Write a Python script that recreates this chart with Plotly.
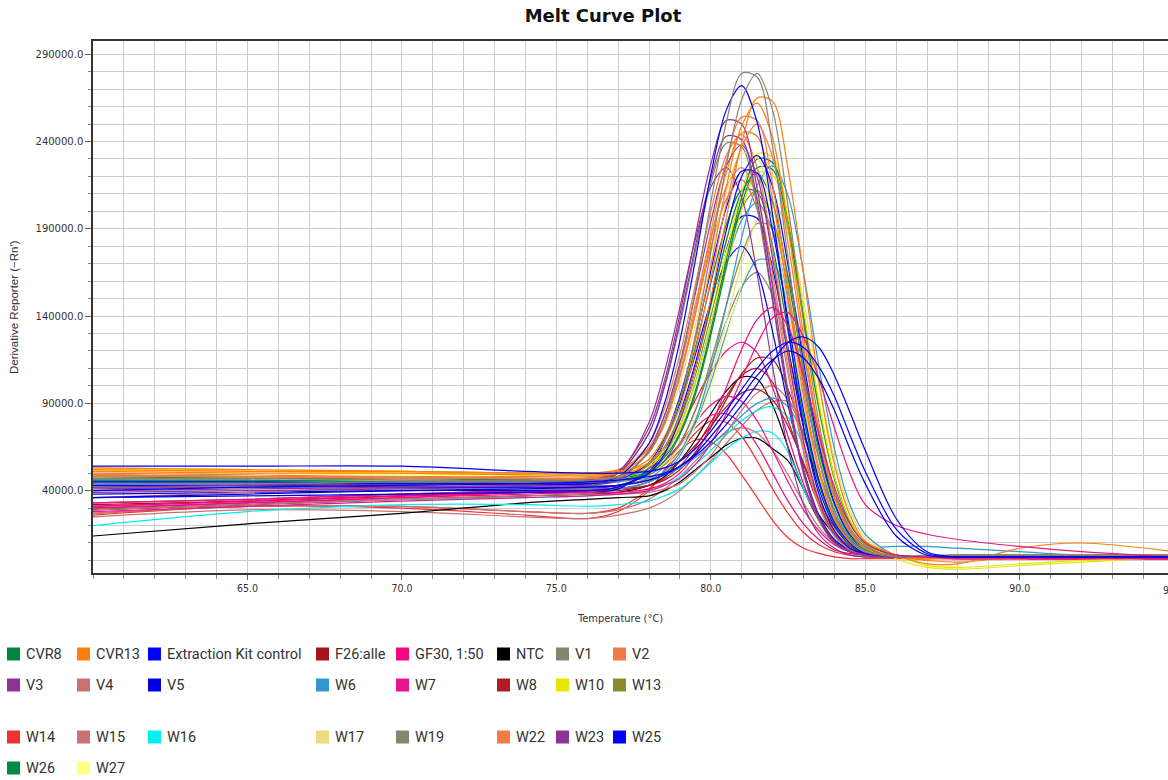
import plotly.graph_objects as go

# ---------------- data (derivative reporter values in thousands) ----------------
TEMPS = [60, 65, 70, 74, 76, 77, 78, 78.5, 79, 79.5, 80, 80.5, 81, 81.5, 82, 82.5,
         83, 83.5, 84, 84.5, 85, 86, 87, 88, 90, 92, 95]

SAMPLES = ["CVR8", "CVR13", "Extraction Kit control", "F26:alle", "GF30, 1:50", "NTC", "V1", "V2",
           "V3", "V4", "V5", "W6", "W7", "W8", "W10", "W13",
           "W14", "W15", "W16", "W17", "W19", "W22", "W23", "W25",
           "W26", "W27"]

SAMPLE_COLORS = ["#00853f", "#ff7f0e", "#0000ff", "#a8141e", "#f5087f", "#000000", "#878470", "#f07b45",
                 "#8c3395", "#c87272", "#0000e0", "#3399cc", "#e8168c", "#b01c24", "#e6e600", "#8c8a2e",
                 "#f03232", "#c87272", "#00f0f0", "#eedc82", "#878470", "#f07b45", "#8c3395", "#0000ff",
                 "#008844", "#ffff80"]

V1_A = [47, 47, 46, 46, 46, 48, 62, 80, 111, 155, 205, 251, 279, 277, 237, 173, 107, 58, 27, 12, 5, 2, 2, 3, 3, 3, 3]
W19_A = [44, 44, 45, 45, 45, 46, 55, 69, 92, 129, 177, 226, 264, 279, 258, 203, 137, 79, 39, 18, 8, 2, 2, 3, 3, 3, 3]
EKC_A = [45, 45, 44, 44, 44, 48, 67, 90, 126, 172, 221, 258, 272, 251, 198, 134, 77, 38, 17, 7, 4, 2, 2, 2, 2, 2, 2]
CVR13_A = [53, 52, 51, 50, 50, 51, 56, 65, 82, 110, 150, 196, 239, 265, 263, 224, 164, 102, 55, 26, 11, 3, -2, -2, 7, 10, 5]
CVR13_B = [51, 50, 50, 49, 49, 50, 58, 71, 92, 126, 169, 214, 249, 262, 242, 191, 129, 74, 37, 17, 7, 2, 1, 2, 2, 2, 2]
V2_A = [50, 49, 48, 48, 48, 50, 62, 78, 106, 144, 188, 229, 254, 252, 215, 157, 98, 53, 25, 11, 5, 2, 2, 2, 2, 2, 2]
W22_A = [48, 48, 47, 47, 47, 48, 56, 68, 88, 120, 161, 204, 237, 250, 231, 182, 123, 71, 36, 16, 7, 2, 2, 2, 2, 2, 2]
V3_A = [42, 43, 44, 45, 46, 51, 76, 103, 141, 186, 227, 252, 250, 213, 156, 97, 52, 25, 11, 5, 3, 2, 2, 2, 2, 2, 2]
W23_A = [41, 42, 43, 44, 45, 50, 73, 100, 137, 180, 219, 243, 241, 206, 150, 94, 50, 24, 10, 5, 3, 2, 2, 2, 2, 2, 2]
V3_B = [40, 41, 42, 43, 43, 46, 63, 83, 113, 153, 194, 226, 238, 220, 173, 117, 68, 34, 15, 7, 3, 2, 2, 2, 2, 2, 2]
CVR8_A = [48, 47, 47, 46, 46, 47, 51, 59, 73, 97, 132, 172, 208, 230, 228, 195, 142, 89, 48, 23, 10, 3, 2, 2, 2, 2, 2]
W26_A = [46, 46, 45, 45, 45, 46, 50, 57, 72, 95, 129, 168, 204, 225, 224, 191, 139, 87, 47, 22, 10, 3, 2, 2, 2, 2, 2]
CVR8_B = [49, 48, 48, 47, 47, 48, 55, 65, 83, 110, 146, 183, 211, 222, 205, 162, 109, 63, 32, 14, 6, 2, 2, 2, 2, 2, 2]
W6_A = [45, 44, 44, 43, 43, 43, 46, 51, 62, 80, 109, 146, 185, 215, 226, 209, 165, 111, 64, 32, 15, 3, 2, 2, 2, 2, 2]
W10_A = [52, 51, 50, 49, 49, 50, 54, 61, 75, 97, 130, 167, 201, 222, 221, 188, 137, 86, 46, 22, 10, 1, -4, -5, -3, -1, 2]
W27_A = [51, 50, 49, 48, 48, 49, 56, 65, 83, 109, 144, 180, 208, 218, 201, 159, 107, 62, 31, 14, 6, 2, 1, 1, 1, 2, 2]
W13_A = [47, 47, 46, 46, 46, 47, 53, 63, 80, 106, 140, 175, 202, 212, 196, 155, 104, 60, 30, 14, 6, 2, 2, 3, 3, 3, 3]
W17_A = [52, 51, 51, 50, 50, 52, 63, 77, 101, 135, 175, 211, 233, 231, 197, 144, 90, 48, 23, 10, 5, 2, 2, 2, 2, 2, 2]
W22_B = [49, 48, 48, 47, 47, 50, 67, 87, 118, 158, 200, 232, 244, 225, 178, 120, 69, 35, 16, 7, 3, 2, 2, 2, 2, 2, 2]
CVR13_C = [52, 51, 51, 50, 50, 52, 64, 79, 105, 141, 183, 222, 245, 243, 207, 151, 94, 51, 24, 10, 5, 2, 0, -1, 2, 3, 3]
W25_A = [43, 43, 42, 42, 42, 43, 50, 61, 81, 110, 149, 189, 220, 232, 214, 169, 114, 66, 33, 15, 7, 2, 2, 2, 2, 2, 2]
V5_A = [38, 39, 40, 40, 40, 42, 51, 63, 84, 113, 147, 179, 197, 196, 167, 122, 76, 41, 20, 9, 4, 2, 2, 2, 2, 2, 2]
V5_B = [36, 37, 38, 39, 39, 41, 53, 68, 90, 118, 148, 171, 180, 166, 131, 89, 52, 26, 12, 6, 3, 2, 2, 2, 2, 2, 2]
W19_B = [43, 43, 44, 44, 45, 50, 73, 99, 135, 177, 216, 239, 237, 202, 148, 92, 50, 23, 10, 5, 3, 2, 3, 3, 3, 3, 3]
W17_B = [51, 50, 49, 49, 49, 49, 52, 56, 65, 81, 105, 137, 170, 195, 205, 189, 149, 101, 58, 29, 13, 3, 2, 2, 2, 2, 2]
W10_B = [53, 52, 51, 50, 50, 51, 55, 63, 77, 101, 135, 175, 211, 233, 231, 197, 144, 90, 48, 23, 10, 3, -3, -4, -2, 0, 2]
W6_B = [46, 45, 45, 44, 44, 45, 51, 60, 77, 102, 135, 169, 195, 205, 189, 149, 101, 58, 29, 13, 6, 2, 2, 2, 2, 2, 2]
W26_B = [45, 45, 44, 44, 44, 46, 56, 69, 91, 122, 159, 192, 212, 211, 180, 131, 82, 44, 21, 9, 4, 2, 2, 2, 2, 2, 2]
V2_B = [49, 48, 47, 47, 47, 50, 65, 83, 111, 147, 185, 214, 225, 208, 164, 111, 64, 32, 15, 7, 3, 2, 2, 2, 2, 2, 2]
W23_B = [39, 40, 41, 42, 43, 50, 79, 108, 145, 184, 214, 225, 208, 164, 111, 64, 32, 15, 7, 3, 2, 2, 2, 2, 2, 2, 2]
W13_B = [46, 46, 45, 45, 45, 45, 49, 55, 67, 86, 114, 146, 175, 193, 191, 163, 119, 74, 40, 19, 9, 3, 2, 3, 3, 3, 3]
V1_B = [42, 42, 42, 42, 42, 43, 47, 54, 67, 86, 111, 137, 157, 165, 152, 120, 81, 47, 24, 11, 5, 2, 2, 3, 3, 3, 3]
W6_C = [42, 42, 41, 41, 41, 41, 45, 50, 60, 78, 102, 130, 156, 172, 171, 146, 106, 67, 36, 17, 8, 3, 2, 2, 2, 2, 2]
W27_B = [50, 49, 48, 48, 48, 48, 50, 54, 62, 77, 99, 128, 158, 181, 190, 176, 139, 94, 54, 27, 13, 3, 1, 1, 1, 2, 2]
V4_A = [36, 39, 42, 43, 44, 47, 62, 79, 107, 142, 179, 207, 218, 201, 159, 107, 62, 31, 14, 6, 3, 2, 2, 1, 1, 1, 1]
EKC_B = [43, 43, 44, 44, 44, 46, 56, 70, 94, 127, 166, 202, 223, 222, 189, 138, 86, 46, 22, 10, 4, 2, 2, 2, 2, 2, 2]
GF30_A = [30, 33, 36, 38, 39, 39, 41, 44, 50, 61, 77, 99, 121, 138, 145, 134, 106, 72, 42, 21, 10, 3, 2, 1, 1, 1, 1]
W7_A = [28, 31, 34, 36, 37, 38, 40, 43, 47, 55, 67, 84, 104, 124, 139, 142, 128, 104, 76, 50, 32, 20, 15, 12, 8, 5, 2]
W7_B = [33, 35, 38, 40, 41, 43, 50, 57, 67, 79, 89, 94, 91, 80, 63, 45, 29, 17, 9, 5, 3, 2, 1, 1, 1, 1, 1]
GF30_B = [31, 34, 37, 39, 40, 42, 50, 57, 66, 76, 83, 84, 78, 66, 50, 34, 21, 12, 6, 4, 3, 2, 1, 1, 1, 1, 1]
W14_A = [26, 31, 30, 26, 24, 28, 40, 52, 63, 69, 68, 61, 49, 36, 23, 13, 7, 4, 2, 1, 1, 1, 1, 1, 1, 1, 1]
W14_B = [27, 31, 31, 28, 27, 30, 41, 51, 62, 73, 80, 79, 71, 57, 41, 27, 16, 9, 5, 3, 2, 2, 1, 1, 1, 1, 1]
F26_A = [33, 35, 38, 40, 41, 41, 43, 46, 52, 62, 76, 92, 107, 116, 115, 98, 72, 45, 25, 12, 6, 2, 2, 1, 1, 1, 1]
W8_A = [31, 34, 37, 39, 40, 40, 43, 47, 54, 65, 79, 94, 106, 110, 102, 80, 55, 32, 17, 8, 4, 2, 1, 1, 1, 1, 1]
NTC_A = [14, 21, 27, 33, 35, 36, 37, 40, 45, 52, 59, 66, 70, 70, 64, 57, 41, 26, 15, 7, 3, 2, 2, 2, 2, 2, 2]
NTC_B = [29, 32, 35, 37, 38, 39, 43, 48, 57, 69, 84, 97, 105, 104, 89, 65, 41, 23, 11, 5, 3, 2, 2, 2, 2, 2, 2]
V4_B = [29, 32, 35, 37, 38, 38, 39, 41, 44, 51, 60, 73, 86, 96, 100, 92, 73, 50, 29, 15, 8, 3, 2, 1, 1, 1, 1]
W15_A = [25, 29, 28, 25, 24, 26, 30, 34, 40, 48, 57, 67, 77, 86, 91, 91, 80, 60, 38, 21, 10, 3, 2, 1, 1, 1, 1]
W16_A = [20, 28, 32, 32, 31, 32, 34, 37, 41, 48, 56, 64, 70, 74, 73, 62, 41, 24, 12, 6, 3, 2, 2, 2, 2, 2, 2]
W16_B = [30, 33, 35, 36, 37, 38, 40, 43, 48, 55, 63, 72, 80, 86, 88, 82, 66, 45, 26, 13, 6, 2, 2, 2, 2, 2, 2]
W25_B = [40, 42, 43, 44, 45, 46, 48, 50, 54, 60, 68, 78, 89, 101, 114, 125, 128, 122, 106, 85, 63, 24, 5, 2, 2, 2, 2]
EKC_C = [54, 54, 54, 51, 50, 50, 51, 53, 57, 64, 74, 86, 98, 110, 120, 125, 122, 111, 94, 72, 51, 18, 4, 2, 2, 2, 2]
V5_C = [36, 38, 40, 41, 42, 43, 46, 49, 54, 61, 71, 82, 94, 106, 115, 120, 116, 104, 86, 64, 44, 14, 3, 2, 2, 2, 2]
W6_D = [44, 44, 45, 46, 46, 46, 47, 49, 53, 59, 66, 74, 83, 90, 93, 88, 72, 50, 29, 14, 8, 8, 8, 7, 5, 3, 2]
W15_B = [27, 31, 31, 28, 27, 29, 35, 41, 48, 57, 66, 73, 76, 73, 63, 49, 33, 19, 10, 5, 3, 2, 1, 1, 1, 1, 1]
F26_B = [32, 34, 37, 39, 40, 41, 45, 50, 57, 66, 77, 88, 96, 98, 92, 77, 56, 35, 19, 9, 4, 2, 1, 1, 1, 1, 1]
GF30_C = [30, 33, 36, 39, 40, 42, 52, 62, 75, 92, 108, 120, 125, 119, 99, 71, 44, 23, 11, 5, 3, 2, 1, 1, 1, 1, 1]

CURVES = [
    ("W14", W14_A), ("W14", W14_B), ("W15", W15_A), ("W15", W15_B), ("NTC", NTC_A), ("NTC", NTC_B),
    ("W16", W16_A), ("W16", W16_B), ("V4", V4_B), ("W8", W8_A), ("F26:alle", F26_A), ("F26:alle", F26_B),
    ("GF30, 1:50", GF30_B), ("W7", W7_B), ("GF30, 1:50", GF30_C), ("W6", W6_D),
    ("V1", V1_B), ("W6", W6_C), ("W27", W27_B), ("W13", W13_B), ("W17", W17_B),
    ("V5", V5_A), ("V5", V5_B), ("W6", W6_B), ("W26", W26_B), ("W13", W13_A), ("W27", W27_A),
    ("CVR8", CVR8_B), ("W6", W6_A), ("W10", W10_A), ("W26", W26_A), ("CVR8", CVR8_A), ("W10", W10_B),
    ("V4", V4_A), ("V2", V2_B), ("W23", W23_B), ("W19", W19_B), ("W22", W22_B), ("W17", W17_A),
    ("CVR13", CVR13_C), ("EKC", EKC_B), ("W25", W25_A), ("V3", V3_B), ("W23", W23_A), ("V3", V3_A),
    ("W22", W22_A), ("V2", V2_A), ("CVR13", CVR13_B), ("CVR13", CVR13_A), ("EKC", EKC_A),
    ("W19", W19_A), ("V1", V1_A),
    ("GF30, 1:50", GF30_A), ("W7", W7_A), ("W25", W25_B), ("EKC", EKC_C), ("V5", V5_C),
]

Y_TICKS = [40000, 90000, 140000, 190000, 240000, 290000]
X_TICKS = [65, 70, 75, 80, 85, 90]

# ---------------- figure ----------------
W, H = 1168, 780
ML, MR, MT, MB = 93, 0, 41, 207
PW, PH = W - ML - MR, H - MT - MB


def px(x):
    return (x - ML) / PW


def py(y):
    return (H - MB - y) / PH


color_of = dict(zip(SAMPLES, SAMPLE_COLORS))
color_of["EKC"] = color_of["Extraction Kit control"]

fig = go.Figure()
for name, vals in CURVES:
    fig.add_trace(go.Scatter(
        x=TEMPS, y=[v * 1000 for v in vals], mode="lines",
        line=dict(color=color_of[name], width=1.2, shape="spline", smoothing=0.9),
        showlegend=False, hoverinfo="skip"))

grid = "#cdcdcd"
fig.update_layout(
    width=W, height=H,
    margin=dict(l=ML, r=MR, t=MT, b=MB, pad=0),
    paper_bgcolor="white", plot_bgcolor="white",
    title=dict(text="<b>Melt Curve Plot</b>", xref="paper", x=px(603), xanchor="center",
               yref="container", y=1 - 16 / H, yanchor="middle",
               font=dict(family="DejaVu Sans, Verdana, sans-serif", size=18, color="#111")),
    xaxis=dict(range=[60, 94.8], tickmode="array", tickvals=X_TICKS,
               ticktext=[f"{t:.1f}" for t in X_TICKS],
               ticks="outside", ticklen=5, tickcolor="#666",
               showline=True, linecolor="#333", linewidth=1.5, mirror=True,
               showgrid=True, gridcolor=grid, gridwidth=1, zeroline=False,
               minor=dict(tickmode="linear", tick0=60, dtick=1, showgrid=True, gridcolor=grid,
                          ticks="outside", ticklen=4, tickcolor="#888"),
               tickfont=dict(family="DejaVu Sans Condensed, Liberation Sans Narrow, sans-serif",
                             size=10.5, color="#333")),
    yaxis=dict(range=[-7200, 297600], tickmode="array", tickvals=Y_TICKS,
               ticktext=[f"{t:.1f}" for t in Y_TICKS],
               ticks="outside", ticklen=6, tickcolor="#666",
               showline=True, linecolor="#333", linewidth=1.5, mirror=False,
               showgrid=True, gridcolor=grid, gridwidth=1, zeroline=False,
               minor=dict(tickmode="linear", tick0=0, dtick=10000, showgrid=True, gridcolor=grid,
                          ticks="outside", ticklen=3, tickcolor="#888"),
               tickfont=dict(family="DejaVu Sans, Verdana, sans-serif", size=10, color="#333")),
)

annotations = [
    dict(text="Derivative Reporter (\u2212Rn\u2032)", xref="paper", yref="paper",
         x=px(14), y=py(307), textangle=-90, showarrow=False, xanchor="center", yanchor="middle",
         font=dict(family="Liberation Sans, Arial, sans-serif", size=11.5, color="#333")),
    dict(text="Temperature (\u00b0C)", xref="paper", yref="paper",
         x=px(620), y=py(618), showarrow=False, xanchor="center", yanchor="middle",
         font=dict(family="DejaVu Sans Condensed, Liberation Sans Narrow, sans-serif", size=11, color="#333")),
    dict(text="95.0", xref="paper", yref="paper", x=px(1173), y=py(590), showarrow=False,
         xanchor="center", yanchor="middle",
         font=dict(family="DejaVu Sans Condensed, Liberation Sans Narrow, sans-serif", size=10.5, color="#333")),
]

# custom legend grid
LEG_COL_X = [7, 77, 148, 316, 396, 497, 556, 613]
LEG_ROW_Y = [654, 685, 737, 768]
shapes = []
for i, (name, col) in enumerate(zip(SAMPLES, SAMPLE_COLORS)):
    r, c = divmod(i, 8)
    x0, yc = LEG_COL_X[c], LEG_ROW_Y[r]
    shapes.append(dict(type="rect", xref="paper", yref="paper",
                       x0=px(x0), x1=px(x0 + 13), y0=py(yc + 6.5), y1=py(yc - 6.5),
                       fillcolor=col, line=dict(width=0)))
    annotations.append(dict(text=name, xref="paper", yref="paper", x=px(x0 + 17), y=py(yc),
                            xanchor="left", yanchor="middle", showarrow=False,
                            font=dict(family="Roboto, sans-serif", size=14.5, color="#333")))

fig.update_layout(annotations=annotations, shapes=shapes)
fig.write_html("out.html")
